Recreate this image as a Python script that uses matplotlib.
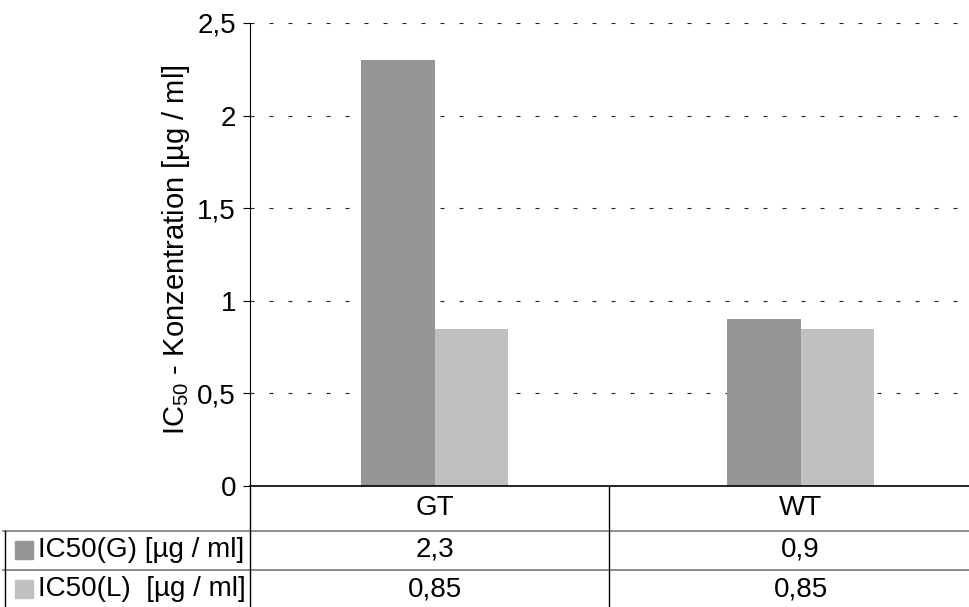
import matplotlib
matplotlib.use("Agg")
import matplotlib.pyplot as plt
import matplotlib.transforms as mtransforms
from matplotlib.patches import Rectangle

plt.rcParams['font.family'] = ['Liberation Sans', 'DejaVu Sans']
plt.rcParams['mathtext.fontset'] = 'custom'
plt.rcParams['mathtext.rm'] = 'Liberation Sans'

categories = ['GT', 'WT']
series_names = ['IC50(G) [µg / ml]', 'IC50(L)  [µg / ml]']
ic50_g = [2.3, 0.9]
ic50_l = [0.85, 0.85]
table_text = [['2,3', '0,9'], ['0,85', '0,85']]
yticks = [0, 0.5, 1, 1.5, 2, 2.5]
ytick_labels = ['0', '0,5', '1', '1,5', '2', '2,5']
colors = ['#969696', '#c0c0c0']

W, H = 969, 607
fig = plt.figure(figsize=(W / 100, H / 100), dpi=100)

# plot area in pixels
left, right, top, bottom = 250, 969, 23, 486
ax = fig.add_axes([left / W, (H - bottom) / H, (right - left) / W, (bottom - top) / H])

x = [0, 1]
bw = 0.2
ax.bar([i - bw / 2 for i in x], ic50_g, width=bw, color=colors[0], zorder=2)
ax.bar([i + bw / 2 for i in x], ic50_l, width=bw, color=colors[1], zorder=2)

ax.set_xlim(-0.504, 1.460)
ax.set_ylim(0, 2.5)
ax.set_yticks(yticks)
ax.set_yticklabels(ytick_labels, fontsize=20)
ax.set_xticks([])
ax.tick_params(axis='y', length=5, width=0.8, pad=5, direction='out')
ax.yaxis.grid(True, color='#222222', linewidth=0.8, linestyle=(0, (3.6, 13.5)), zorder=1)
for s in ['top', 'right']:
    ax.spines[s].set_visible(False)
ax.spines['left'].set_linewidth(0.8)
ax.spines['bottom'].set_linewidth(1.2)

fig.text(176 / W, 1 - 250 / H, r'IC$_{\mathregular{50}}$ - Konzentration [µg / ml]',
         rotation=90, ha='center', va='center', fontsize=21)

# data table below the plot area
def fy(py):
    return 1 - py / H

def fx(px):
    return px / W

row_lines = [531, 570]
sep_x = 609
trans = mtransforms.blended_transform_factory(ax.transData, fig.transFigure)

for ry in row_lines:
    fig.add_artist(plt.Line2D([fx(3), fx(969)], [fy(ry), fy(ry)], color='#7a7a7a', linewidth=1.2))
for vx, y0 in [(left, bottom), (sep_x, bottom), (5, row_lines[0])]:
    fig.add_artist(plt.Line2D([fx(vx), fx(vx)], [fy(y0), fy(H)], color='black', linewidth=1.0))

for i, cat in enumerate(categories):
    fig.text(x[i], fy(508), cat, transform=trans, ha='center', va='center', fontsize=20)

row_centers = [550, 589]
for r, name in enumerate(series_names):
    cy = row_centers[r]
    fig.add_artist(Rectangle((fx(15), fy(cy + 9)), 18 / W, 18 / H, color=colors[r],
                             transform=fig.transFigure))
    fig.text(fx(38), fy(cy), name, ha='left', va='center', fontsize=20)
    for i in range(len(categories)):
        fig.text(x[i], fy(cy), table_text[r][i], transform=trans, ha='center', va='center', fontsize=20)

fig.savefig('out.png', dpi=100)
